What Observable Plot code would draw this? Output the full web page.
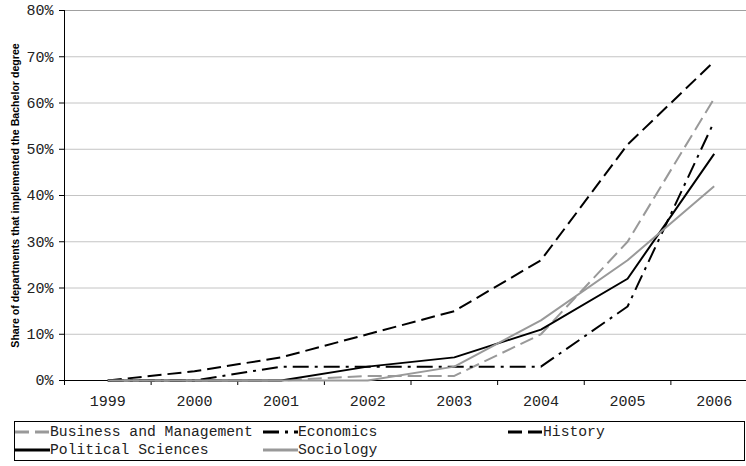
<!DOCTYPE html>
<html>
<head>
<meta charset="utf-8">
<script src="https://cdn.jsdelivr.net/npm/d3@7"></script>
<script src="https://cdn.jsdelivr.net/npm/@observablehq/plot@0.6"></script>
<style>
  html, body { margin: 0; padding: 0; background: #fff; }
  body { width: 746px; height: 466px; overflow: hidden; position: relative; font-family: "Liberation Mono", "DejaVu Sans Mono", monospace; }
  #chart svg { display: block; }
  #legend {
    position: absolute; left: 14px; top: 421px; width: 731px; height: 40px;
    border: 1px solid #000; box-sizing: border-box; padding-top: 1px;
    display: grid; grid-template-columns: 248px 245px auto; grid-auto-rows: 18px;
    color: #222;
  }
  .item { display: flex; align-items: center; font-size: 14.7px; white-space: nowrap; }
  .item svg { width: 35px; height: 10px; flex: none; display: block; }
</style>
</head>
<body>
<div id="chart"></div>
<div id="legend"></div>
<script>
// ---- data ----
const years = [1999, 2000, 2001, 2002, 2003, 2004, 2005, 2006];
const businessManagement = [0, 0, 0, 1, 1, 10, 30, 61];
const economics = [0, 0, 3, 3, 3, 3, 16, 56];
const history = [0, 2, 5, 10, 15, 26, 51, 69];
const politicalSciences = [0, 0, 0, 3, 5, 11, 22, 49];
const sociology = [0, 0, 0, 0, 3, 13, 26, 42];
const seriesNames = ["Business and Management", "Economics", "History", "Political Sciences", "Sociology"];
const yTicks = [0, 10, 20, 30, 40, 50, 60, 70, 80];
const yTitle = "Share of departments that implemented the Bachelor degree";

// ---- styles ----
const seriesValues = [businessManagement, economics, history, politicalSciences, sociology];
const seriesStyle = {
  "Business and Management": {stroke: "#999999", dash: "14,6"},
  "Economics": {stroke: "#000000", dash: "16,6,3,6"},
  "History": {stroke: "#000000", dash: "14,6"},
  "Political Sciences": {stroke: "#000000", dash: null},
  "Sociology": {stroke: "#999999", dash: null}
};

const rows = seriesNames.flatMap((name, i) =>
  years.map((year, j) => ({name, year, value: seriesValues[i][j]})));
const bounds = [years[0] - 0.5, ...years.map(y => y + 0.5)];

const lineMarks = seriesNames.map(name => {
  const s = seriesStyle[name];
  const opts = {x: "year", y: "value", stroke: s.stroke, strokeWidth: 2, strokeLinejoin: "miter", strokeLinecap: "butt"};
  if (s.dash) opts.strokeDasharray = s.dash;
  return Plot.line(rows.filter(r => r.name === name), opts);
});

const chart = Plot.plot({
  width: 746,
  height: 418,
  marginLeft: 64,
  marginRight: 0,
  marginTop: 10,
  marginBottom: 38,
  x: {type: "linear", domain: [bounds[0], bounds[bounds.length - 1]], range: [64, 757]},
  y: {type: "linear", domain: [0, 80], range: [380, 10]},
  style: {fontFamily: "Liberation Mono, monospace", fontSize: "15px", color: "#222", background: "#fff"},
  marks: [
    Plot.gridY(yTicks.filter(d => d > 0 && d < 80), {stroke: "#c4c4c4", strokeOpacity: 1}),
    Plot.ruleY([80], {stroke: "#a0a0a0"}),
    Plot.axisY(yTicks, {tickSize: 5, tickPadding: 6, tickFormat: d => d + "%", label: null, fontSize: 15, fontFamily: "Liberation Mono, monospace", stroke: "#000"}),
    Plot.axisY({ticks: [], tickSize: 0, label: yTitle, labelAnchor: "center", labelArrow: "none", labelOffset: 53,
      fontSize: 10.6, fontWeight: "bold", fontFamily: "Liberation Sans, Arial, sans-serif", fill: "#000"}),
    Plot.axisX(bounds, {tickSize: 5, tickFormat: () => "", label: null, stroke: "#000"}),
    Plot.axisX(years, {tickSize: 0, tickPadding: 15, tickFormat: d => String(d), label: null, fontSize: 15, fontFamily: "Liberation Mono, monospace"}),
    Plot.ruleX([bounds[0]], {stroke: "#000"}),
    Plot.ruleY([0], {stroke: "#000"}),
    ...lineMarks
  ]
});
document.getElementById("chart").appendChild(chart);

// ---- legend ----
const legend = d3.select("#legend");
seriesNames.forEach(name => {
  const s = seriesStyle[name];
  const item = legend.append("div").attr("class", "item");
  const svg = item.append("svg").attr("viewBox", "0 0 35 10");
  svg.append("line").attr("x1", 0).attr("x2", 35).attr("y1", 5).attr("y2", 5)
    .attr("stroke", s.stroke).attr("stroke-width", 3)
    .attr("stroke-dasharray", s.dash || null);
  item.append("span").text(name);
});
</script>
</body>
</html>
